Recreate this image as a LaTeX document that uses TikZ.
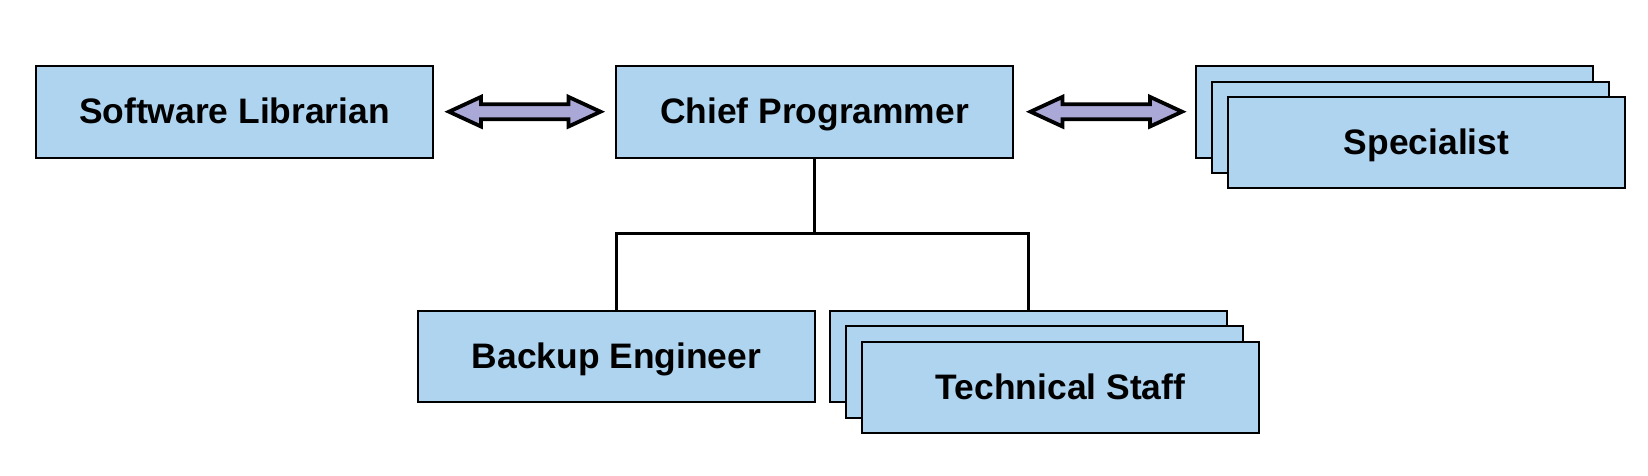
\documentclass[tikz,border=0pt]{standalone}
\usepackage{fontspec}
\setmainfont{Liberation Sans}
\usetikzlibrary{calc}
\definecolor{boxblue}{RGB}{174,212,240}
\definecolor{arrowlav}{RGB}{170,168,214}
\tikzset{
  rolebox/.style={draw=black, fill=boxblue, line width=2pt, rectangle,
    minimum width=397pt, minimum height=91.5pt, inner sep=0pt,
    text height=25.3pt, text depth=1.5pt,
    font=\fontsize{35.4}{40}\selectfont\bfseries},
  conn/.style={draw=black, line width=3pt},
  blockarrow/.style={draw=black, fill=arrowlav, line width=3.8pt, line join=miter}
}
\begin{document}
\begin{tikzpicture}[x=1pt,y=-1pt]
\useasboundingbox (0,0) rectangle (1648,475);
% top row
\node[rolebox] (lib) at (234.5,112) {Software Librarian};
\node[rolebox] (chief) at (814.5,112) {Chief Programmer};
\node[rolebox] (spec1) at (1394.5,112) {};
\node[rolebox] (spec2) at (1410.5,127.3) {};
\node[rolebox] (spec) at (1426.5,142.6) {Specialist};
% bottom row
\node[rolebox] (backup) at (616.5,356.7) {Backup Engineer};
\node[rolebox] (tech1) at (1028.5,356.7) {};
\node[rolebox] (tech2) at (1044.5,372) {};
\node[rolebox] (tech) at (1060.5,387.3) {Technical Staff};
% tree connector
\coordinate (bar) at (0,233.3);
\draw[conn] (chief.south) -- (chief.south |- bar);
\draw[conn] (backup.north) -- (backup.north |- bar) -- (tech1.north |- bar) -- (tech1.north);
% block arrows
\coordinate (a1l) at ($(lib.east)+(15,-0.3)$);
\coordinate (a1r) at ($(chief.west)+(-14.5,-0.3)$);
\coordinate (a2l) at ($(chief.east)+(16.5,-0.3)$);
\coordinate (a2r) at ($(spec1.west)+(-13,-0.3)$);
\foreach \l/\r in {a1l/a1r, a2l/a2r}{
  \draw[blockarrow] (\l) -- ($(\l)+(32,-14.8)$) -- ($(\l)+(32,-7.5)$) -- ($(\r)+(-32,-7.5)$)
    -- ($(\r)+(-32,-14.8)$) -- (\r) -- ($(\r)+(-32,14.8)$) -- ($(\r)+(-32,7.5)$)
    -- ($(\l)+(32,7.5)$) -- ($(\l)+(32,14.8)$) -- cycle;
}
\end{tikzpicture}
\end{document}
